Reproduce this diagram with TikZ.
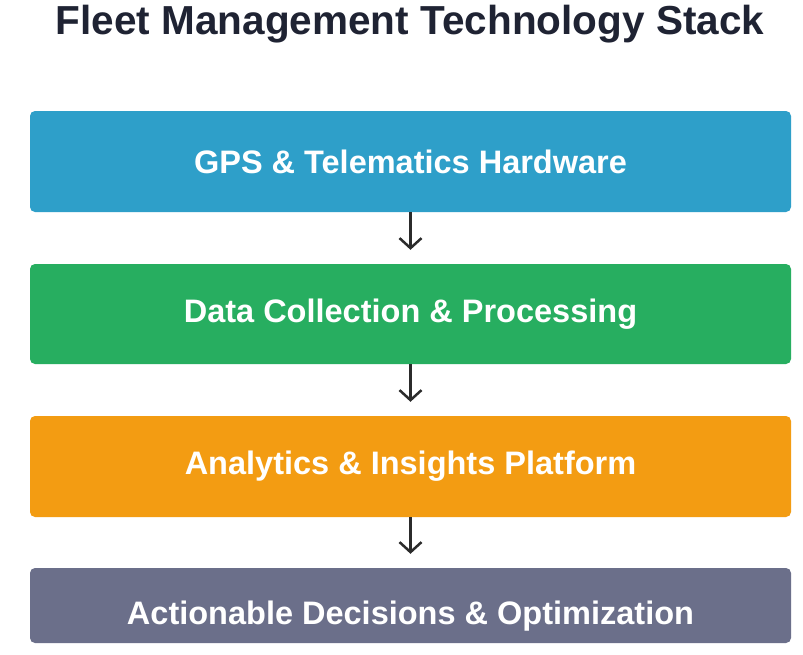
\documentclass[tikz,border=0pt]{standalone}
\usepackage{fontspec}
\setmainfont{Liberation Sans}
\usetikzlibrary{arrows.meta}
\definecolor{cblue}{HTML}{2E9FC9}
\definecolor{cgreen}{HTML}{27AE60}
\definecolor{corange}{HTML}{F39C12}
\definecolor{cslate}{HTML}{6B6F8A}
\definecolor{ctitle}{HTML}{1F2333}
\definecolor{carrow}{HTML}{2B2B2B}
\begin{document}
\begin{tikzpicture}[x=1pt,y=-1pt,
  layer/.style={rounded corners=5pt,minimum width=761pt,text=white,font=\fontsize{32.5}{38}\selectfont\bfseries,inner sep=0pt},
  flow/.style={draw=carrow,line width=2.5pt,-{Straight Barb[length=10pt,width=22pt]}}]
\useasboundingbox (0,0) rectangle (803,654);
\fill[white] (0,0) rectangle (803,654);
\node[text=ctitle,font=\fontsize{40.5}{46}\selectfont\bfseries] (title) at (410,24) {Fleet Management Technology Stack};
\node[layer,fill=cblue,minimum height=101pt] (l1) at (410.5,161.5) {GPS \& Telematics Hardware};
\node[layer,fill=cgreen,minimum height=100pt] (l2) at (410.5,314) {Data Collection \& Processing};
\node[layer,fill=corange,minimum height=101pt] (l3) at (410.5,466.5) {Analytics \& Insights Platform};
\node[layer,fill=cslate,minimum height=75pt] (l4) at (410.5,605.5) {};
\node[text=white,font=\fontsize{32.5}{38}\selectfont\bfseries] (t4) at (410.5,616) {Actionable Decisions \& Optimization};
\draw[flow] (l1.south) -- ([yshift=14pt]l2.north);
\draw[flow] (l2.south) -- ([yshift=14pt]l3.north);
\draw[flow] (l3.south) -- ([yshift=14pt]l4.north);
\end{tikzpicture}
\end{document}
